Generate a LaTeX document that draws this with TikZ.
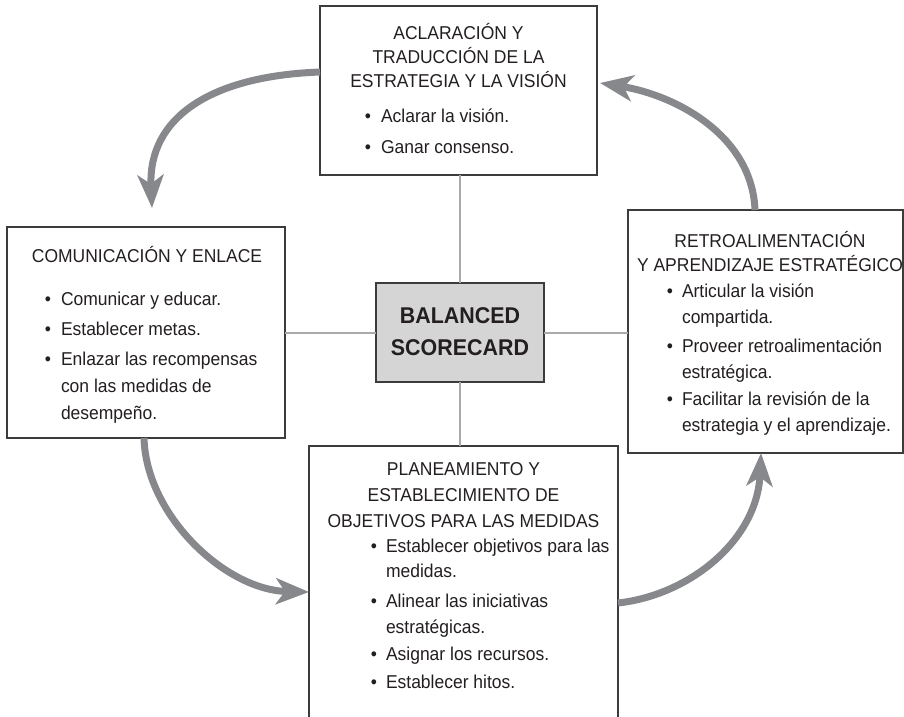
\documentclass[tikz,border=0pt]{standalone}
\usepackage{fontspec}
\setmainfont[FakeStretch=0.94]{Liberation Sans}
\usetikzlibrary{arrows.meta}
\definecolor{ink}{HTML}{231F20}
\definecolor{frame}{HTML}{3C3C3C}
\definecolor{linkgray}{HTML}{A9A9AB}
\definecolor{arrowgray}{HTML}{87888C}
\definecolor{corefill}{HTML}{D5D5D6}
\begin{document}
\begin{tikzpicture}[x=1pt,y=-1pt,
  panel/.style={draw=frame, line width=1.3pt, fill=white, inner sep=0pt, outer sep=0pt, anchor=north west},
  core/.style={panel, fill=corefill},
  link/.style={draw=linkgray, line width=2pt},
  flow/.style={draw=arrowgray, line width=7pt, -{Stealth[length=33pt,width=26pt,inset=9pt]}},
  txt/.style={inner sep=0pt, outer sep=0pt, text=ink, font=\fontsize{18.6}{22}\selectfont},
  ttl/.style={txt, anchor=base},
  itm/.style={txt, anchor=base west},
  dot/.style={txt, anchor=base},
  big/.style={inner sep=0pt, outer sep=0pt, text=ink, anchor=base, font=\fontsize{22.8}{26}\selectfont\bfseries},
]
\useasboundingbox (0,0) rectangle (904,716);
\clip (0,0) rectangle (904,716);

% the five boxes
\node[panel, minimum width=277, minimum height=169] (top) at (320,6) {};
\node[panel, minimum width=278, minimum height=211] (left) at (7,227) {};
\node[panel, minimum width=275, minimum height=243] (right) at (628,210) {};
\node[panel, minimum width=309, minimum height=290] (bot) at (309,446) {};
\node[core, minimum width=168, minimum height=99] (core) at (376,283) {};

% thin spokes from the centre box
\draw[link] (core.north) -- (core.north |- top.south);
\draw[link] (core.south) -- (core.south |- bot.north);
\draw[link] (core.west) -- (core.west -| left.east);
\draw[link] (core.east) -- (core.east -| right.west);

% centre label
\node[big] (c1) at (460,323) {BALANCED};
\node[big] (c2) at (460,355) {SCORECARD};

% top box text
\foreach \yy/\lbl [count=\k] in {39/ACLARACIÓN Y, 63/TRADUCCIÓN DE LA, 87/ESTRATEGIA Y LA VISIÓN}
  \node[ttl] (tt\k) at (458.5,\yy) {\lbl};
\foreach \yy/\lbl [count=\k] in {122/Aclarar la visión., 153/Ganar consenso.}{
  \node[dot] (tb\k) at (368,\yy) {\textbullet};
  \node[itm] (ti\k) at (381,\yy) {\lbl};
}

% left box text
\node[ttl] (lt1) at (147,262) {COMUNICACIÓN Y ENLACE};
\foreach \yy [count=\k] in {305,335,365}
  \node[dot] (lb\k) at (48,\yy) {\textbullet};
\foreach \yy/\lbl [count=\k] in {305/Comunicar y educar., 335/Establecer metas., 365/Enlazar las recompensas, 392/con las medidas de, 419/desempeño.}
  \node[itm] (li\k) at (61,\yy) {\lbl};

% right box text
\foreach \yy/\lbl [count=\k] in {247/RETROALIMENTACIÓN, 271/Y APRENDIZAJE ESTRATÉGICO}
  \node[ttl] (rt\k) at (770,\yy) {\lbl};
\foreach \yy [count=\k] in {297,352,405}
  \node[dot] (rb\k) at (670,\yy) {\textbullet};
\foreach \yy/\lbl [count=\k] in {297/Articular la visión, 323/compartida., 352/Proveer retroalimentación, 378/estratégica., 405/Facilitar la revisión de la, 431/estrategia y el aprendizaje.}
  \node[itm] (ri\k) at (682,\yy) {\lbl};

% bottom box text
\foreach \yy/\lbl [count=\k] in {475/PLANEAMIENTO Y, 501/ESTABLECIMIENTO DE, 527/OBJETIVOS PARA LAS MEDIDAS}
  \node[ttl] (bt\k) at (463.5,\yy) {\lbl};
\foreach \yy [count=\k] in {552,607,660,688}
  \node[dot] (bb\k) at (374,\yy) {\textbullet};
\foreach \yy/\lbl [count=\k] in {552/Establecer objetivos para las, 577/medidas., 607/Alinear las iniciativas, 633/estratégicas., 660/Asignar los recursos., 688/Establecer hitos.}
  \node[itm] (bi\k) at (386,\yy) {\lbl};

% the four cycle arrows
\coordinate (a1s) at (top.west |- 0,72);
\coordinate (a1e) at (152,208);
\draw[flow] (a1s) .. controls (210,76) and (148,118) .. (a1e);

\coordinate (a2s) at (left.south -| 144,0);
\coordinate (a2e) at (bot.west |- 0,592);
\draw[flow] (a2s) .. controls (146,515) and (225,590) .. (a2e);

\coordinate (a3s) at (bot.east |- 0,603);
\coordinate (a3e) at (right.south -| 761,0);
\draw[flow] (a3s) .. controls (690,595) and (757,540) .. (a3e);

\coordinate (a4s) at (right.north -| 755,0);
\coordinate (a4e) at (600,83);
\draw[flow] (a4s) .. controls (752,135) and (675,95) .. (a4e);
\end{tikzpicture}
\end{document}
